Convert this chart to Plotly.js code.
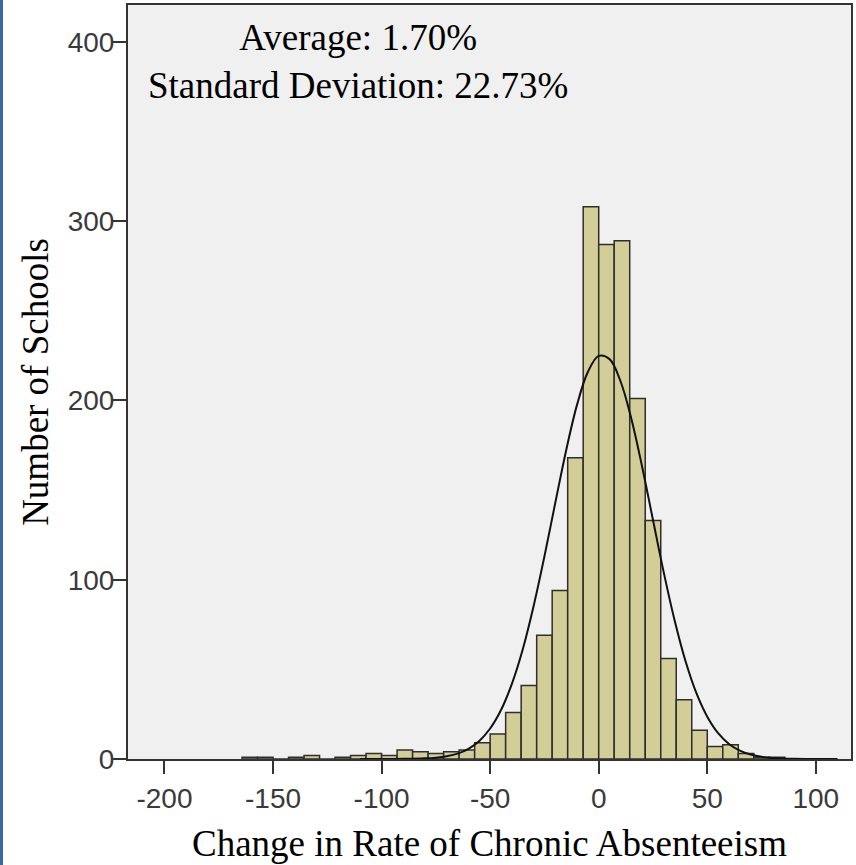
<!DOCTYPE html>
<html>
<head>
<meta charset="utf-8">
<script src="https://cdn.plot.ly/plotly-3.0.1.min.js"></script>
<style>
  html, body { margin: 0; padding: 0; background: #ffffff; }
  #wrap { position: relative; width: 856px; height: 865px; }
  #chart { width: 856px; height: 865px; }
  #edge { position: absolute; left: 0; top: 0; width: 3px; height: 865px; background: #3b67a3; }
</style>
</head>
<body>
<div id="wrap">
  <div id="chart"></div>
  <div id="edge"></div>
</div>
<script>
// Histogram bins (lower edges) and counts
const binWidth = 50 / 7;
const binLow = [-164.29, -157.14, -150.00, -142.86, -135.71, -128.57, -121.43, -114.29, -107.14, -100.00,
                -92.86, -85.71, -78.57, -71.43, -64.29, -57.14, -50.00, -42.86, -35.71, -28.57,
                -21.43, -14.29, -7.14, 0.00, 7.14, 14.29, 21.43, 28.57, 35.71, 42.86,
                50.00, 57.14, 64.29, 71.43, 78.57];
const counts = [1, 1, 0, 1, 2, 0, 1, 2, 3, 2,
                5, 4, 3, 4, 5, 9, 14, 26, 41, 69,
                94, 168, 308, 287, 289, 201, 133, 56, 33, 16,
                7, 8, 3, 1, 1];

// Fitted normal curve
const curveX = [-110, -100, -90, -80, -75, -70, -65, -60, -55, -50, -45, -40, -35, -30, -25, -20, -15, -10, -5,
                0, 5, 10, 15, 20, 25, 30, 35, 40, 45, 50, 55, 60, 65, 70, 75, 80, 90, 100, 110];
const curveY = [0, 0.01, 0.07, 0.35, 0.76, 1.56, 3.0, 5.7, 10.1, 17.0, 27.3, 41.9, 61.1, 85.2, 113.0, 142.9, 172.1, 197.5, 215.8,
                224.8, 223.0, 210.8, 189.9, 163.0, 133.3, 103.8, 77.1, 54.5, 36.7, 23.6, 14.4, 8.4, 4.7, 2.5, 1.2, 0.6, 0.12, 0.02, 0];

const xTicks = [-200, -150, -100, -50, 0, 50, 100];
const yTicks = [0, 100, 200, 300, 400];

const xTitle = 'Change in Rate of Chronic Absenteeism';
const yTitle = 'Number of Schools';
const statsText = 'Average: 1.70%<br>Standard Deviation: 22.73%';

const bars = {
  type: 'bar',
  x: binLow,
  y: counts,
  width: binLow.map(() => binWidth),
  offset: 0,
  marker: { color: '#d3ce97', line: { color: '#2e2e2e', width: 1.5 } },
  hoverinfo: 'x+y',
  showlegend: false
};

const curve = {
  type: 'scatter',
  mode: 'lines',
  x: curveX,
  y: curveY,
  line: { color: '#111111', width: 2, shape: 'spline', smoothing: 1 },
  hoverinfo: 'skip',
  showlegend: false
};

const tickFont = { family: '"Liberation Sans", Arial, sans-serif', size: 28, color: '#3a3a3a' };
const titleFont = { family: '"Liberation Serif", "Times New Roman", serif', size: 37, color: '#000000' };

const layout = {
  width: 856,
  height: 865,
  margin: { l: 128, r: 5, t: 5, b: 106, pad: 0 },
  paper_bgcolor: '#ffffff',
  plot_bgcolor: '#f0f0f0',
  bargap: 0,
  xaxis: {
    range: [-216.8, 116.2],
    tickmode: 'array',
    tickvals: xTicks,
    ticktext: xTicks.map(String),
    ticks: 'outside',
    ticklen: 13,
    tickwidth: 2,
    tickcolor: '#333333',
    showgrid: false,
    zeroline: false,
    showline: true,
    linecolor: '#333333',
    linewidth: 2,
    mirror: true,
    tickfont: tickFont,
    title: { text: xTitle, font: titleFont, standoff: 18 }
  },
  yaxis: {
    range: [0, 420.5],
    tickmode: 'array',
    tickvals: yTicks,
    ticktext: yTicks.map(String),
    ticks: 'outside',
    ticklen: 14,
    tickwidth: 2,
    tickcolor: '#333333',
    ticklabelstandoff: -8,
    showgrid: false,
    zeroline: false,
    showline: true,
    linecolor: '#333333',
    linewidth: 2,
    mirror: true,
    tickfont: tickFont,
    title: { text: yTitle, font: titleFont, standoff: 8 }
  },
  annotations: [{
    xref: 'paper', yref: 'paper',
    x: 0.318, y: 0.987,
    xanchor: 'center', yanchor: 'top',
    align: 'center',
    showarrow: false,
    text: statsText,
    font: titleFont
  }]
};

Plotly.newPlot('chart', [bars, curve], layout, { staticPlot: true, displayModeBar: false });
</script>
</body>
</html>
